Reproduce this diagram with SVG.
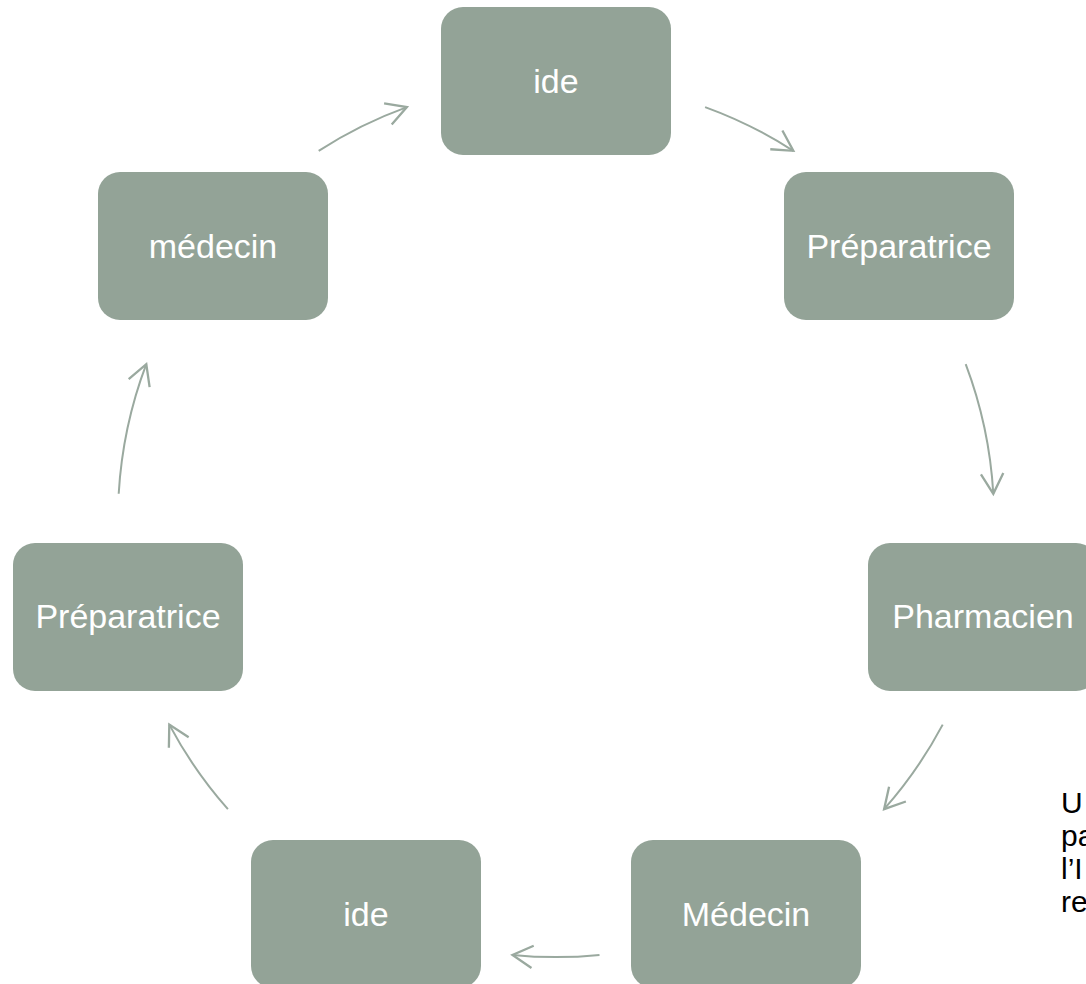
<svg xmlns="http://www.w3.org/2000/svg" width="1086" height="984" viewBox="0 0 1086 984">
<style>
.box{fill:#93A397;}
.lbl{font-family:"Liberation Sans",Arial,sans-serif;font-size:34px;fill:#FFFFFF;text-anchor:middle;}
.arr{fill:none;stroke:#9AA99F;stroke-width:2;marker-end:url(#head);}
.side{font-family:"Liberation Sans",Arial,sans-serif;font-size:30px;fill:#000000;}
</style>
<defs>
<marker id="head" markerUnits="userSpaceOnUse" markerWidth="30" markerHeight="30" viewBox="-22 -12 26 24" refX="0" refY="0" orient="auto">
<path d="M-17.5,-9.7 L0,0 L-17.5,9.7" fill="none" stroke="#9AA99F" stroke-width="2"/>
</marker>
</defs>
<rect width="1086" height="984" fill="#FFFFFF"/>
<g id="connectors">
<path class="arr" d="M318.7,150.8 A438,438 0 0 1 406.9,107.1"/>
<path class="arr" d="M705.1,107.1 A438,438 0 0 1 793.3,150.8"/>
<path class="arr" d="M965.7,364.2 A438,438 0 0 1 993.3,493.8"/>
<path class="arr" d="M942.7,724.6 A438,438 0 0 1 884.1,809.2"/>
<path class="arr" d="M599.5,954.9 A438,438 0 0 1 512.5,954.9"/>
<path class="arr" d="M227.9,809.2 A438,438 0 0 1 169.3,724.6"/>
<path class="arr" d="M118.7,493.8 A438,438 0 0 1 146.3,364.2"/>
</g>
<g id="node-ide-top">
<rect class="box" x="441" y="7" width="230" height="148" rx="22"/>
<text class="lbl" x="556" y="93">ide</text>
</g>
<g id="node-preparatrice-right">
<rect class="box" x="784" y="172" width="230" height="148" rx="22"/>
<text class="lbl" x="899" y="258">Préparatrice</text>
</g>
<g id="node-pharmacien">
<rect class="box" x="868" y="543" width="230" height="148" rx="22"/>
<text class="lbl" x="983" y="628">Pharmacien</text>
</g>
<g id="node-medecin-bottom">
<rect class="box" x="631" y="840" width="230" height="148" rx="22"/>
<text class="lbl" x="746" y="926">Médecin</text>
</g>
<g id="node-ide-bottom">
<rect class="box" x="251" y="840" width="230" height="148" rx="22"/>
<text class="lbl" x="366" y="926">ide</text>
</g>
<g id="node-preparatrice-left">
<rect class="box" x="13" y="543" width="230" height="148" rx="22"/>
<text class="lbl" x="128" y="628">Préparatrice</text>
</g>
<g id="node-medecin-top">
<rect class="box" x="98" y="172" width="230" height="148" rx="22"/>
<text class="lbl" x="213" y="258">médecin</text>
</g>
<g id="side-text">
<text class="side" x="1061" y="813">U</text>
<text class="side" x="1061" y="846">pa</text>
<text class="side" x="1061" y="879">l’I</text>
<text class="side" x="1061" y="912">re</text>
</g>
</svg>
